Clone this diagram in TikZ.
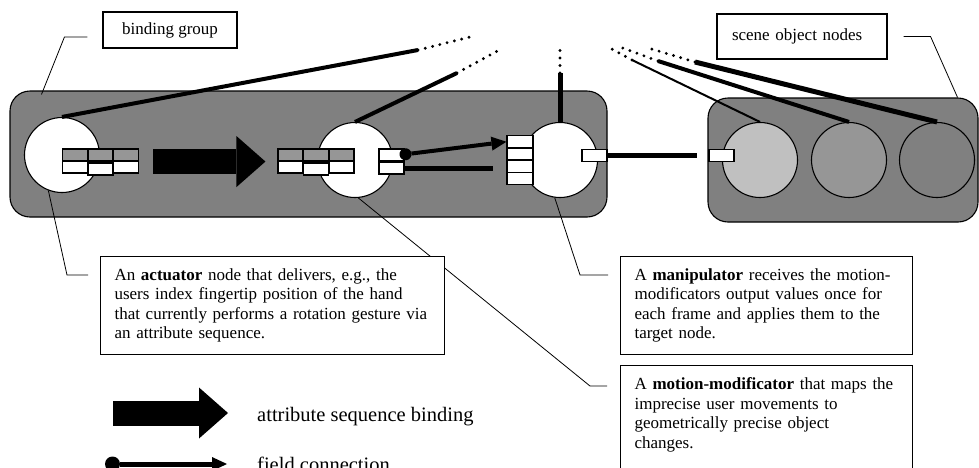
\documentclass[tikz,border=0pt]{standalone}
\usepackage{fontspec}
\setmainfont{Liberation Serif}
\usetikzlibrary{arrows.meta}

\definecolor{groupgray}{RGB}{128,128,128}
\definecolor{fieldgray}{RGB}{150,150,150}
\definecolor{palegray}{RGB}{192,192,192}

\tikzset{
  groupbox/.style={draw, fill=groupgray, line width=1.1pt, rounded corners=20pt, inner sep=0pt},
  scenenode/.style={circle, draw, line width=1.1pt, fill=white, minimum size=75pt, inner sep=0pt},
  field/.style={draw, line width=1.1pt, fill=white, minimum width=25pt, minimum height=12pt, inner sep=0pt},
  tagbox/.style={draw, line width=1.1pt, fill=white, inner sep=0pt},
  infobox/.style={draw, line width=1.1pt, fill=white, text width=#1, align=left,
    inner xsep=14pt, inner ysep=12pt, anchor=north west},
  callout/.style={line width=0.8pt},
  dots/.style={line width=3.2pt, line cap=round, dash pattern=on 0pt off 7.5pt},
  seqbind/.style={line width=25pt, -{Triangle[length=29pt, width=51pt, line width=0pt]}},
  fieldcon/.style={line width=4pt,
    {Circle[length=#1, line width=0pt]}-{Triangle[length=15pt, width=14pt, line width=0pt]}},
  fieldcon/.default=12pt
}

\begin{document}
\begin{tikzpicture}[x=1pt, y=-1pt, font=\fontsize{17}{19.5}\selectfont]
  \clip (0,0) rectangle (979,467);

  \node[groupbox, minimum width=597pt, minimum height=126pt] (bgroup) at (308.5,154) {};
  \node[groupbox, minimum width=270pt, minimum height=124pt] (sgroup) at (843,160) {};

  \node[scenenode] (act) at (62,155) {};
  \node[scenenode] (mod) at (355,160) {};
  \node[scenenode] (man) at (560,160) {};
  \node[scenenode, fill=palegray]  (obj1) at (760,160) {};
  \node[scenenode, fill=fieldgray] (obj2) at (849,160) {};
  \node[scenenode, fill=groupgray] (obj3) at (937,160) {};

  % links into the scene graph
  \foreach \n/\p/\q/\w in {act/{(418,50)}/{(470,37)}/4pt,
                           mod/{(457,73)}/{(503,48)}/4pt,
                           man/{(560,73)}/{(560,50)}/5pt,
                           obj1/{(632,60)}/{(608,47)}/2pt,
                           obj2/{(658,61)}/{(620,47)}/4pt,
                           obj3/{(695,62)}/{(645,47)}/5pt} {
    \draw[line width=\w] (\n.north) -- \p;
    \draw[dots] \p -- \q;
  }

  % attribute sequences
  \foreach \i in {1,2,3} {
    \node[field, fill=fieldgray] (aout\i) at ({49.5+25.5*\i},155) {};
    \node[field] (aval\i) at ({49.5+25.5*\i},{167+2*(\i==2)}) {};
    \node[field, fill=fieldgray] (min\i) at ({265+25.5*\i},155) {};
    \node[field] (mval\i) at ({265+25.5*\i},{167+2*(\i==2)}) {};
  }
  \node[field] (mout1) at (391.5,155) {};
  \node[field] (mout2) at (391.5,168) {};
  \foreach \i in {1,...,4}
    \node[field, minimum width=26pt] (mcol\i) at (520,{129.5+12.25*\i}) {};
  \node[field] (mport) at (594.5,155.5) {};
  \node[field] (oport) at (721.5,155.5) {};

  \draw[seqbind] ([xshift=14pt]aout3.south east) -- ([xshift=-12pt]min1.south west);
  \draw[fieldcon] ([xshift=-5pt]mout1.east) -- (mcol1.west);
  \coordinate (modend) at (493,168);
  \draw[line width=5pt] (mout2.east) -- (modend);
  \draw[line width=5pt] (mport.east) -- ([xshift=-11pt]oport.west);

  % tags and callouts
  \node[tagbox, minimum width=134pt, minimum height=36pt] (bgtag) at (170,30) {binding group};
  \node[tagbox, text width=140pt, align=left, inner xsep=15pt, minimum height=45pt]
    (sotag) at (802,36.5) {scene object nodes};
  \draw[callout] ([shift={(-15,7)}]bgtag.west) -- ++(-23,0) -- ([shift={(32,4)}]bgroup.north west);
  \draw[callout] ([xshift=16pt]sotag.east) -- ++(27,0) -- ([xshift=-21pt]sgroup.north east);

  \coordinate (actpin) at (88,275);
  \coordinate (manpin) at (608,275);
  \coordinate (modpin) at (607,386);
  \draw[callout] (act.249) -- ([xshift=-21pt]actpin) -- (actpin);
  \draw[callout] (man.262) -- ([xshift=-28pt]manpin) -- (manpin);
  \draw[callout] (mod.275) -- ([xshift=-17pt]modpin) -- (modpin);

  \node[infobox=316pt] (actbox) at (100,256) {An \textbf{actuator} node that delivers, e.g., the\\
    users index fingertip position of the hand\\
    that currently performs a rotation gesture via\\
    an attribute sequence.};
  \node[infobox=264pt] (manbox) at (620,256) {A \textbf{manipulator} receives the motion-\\
    modificators output values once for\\
    each frame and applies them to the\\
    target node.};
  \node[infobox=264pt] (modbox) at (620,365) {A \textbf{motion-modificator} that maps the\\
    imprecise user movements to\\
    geometrically precise object\\
    changes.\\ \strut\\ \strut};

  % legend
  \node[anchor=base west, inner sep=0pt, font=\fontsize{20.5}{24}\selectfont]
    (seqkey) at (257,421) {attribute sequence binding};
  \node[anchor=base west, inner sep=0pt, font=\fontsize{20.5}{24}\selectfont]
    (fieldkey) at (257,471) {field connection};
  \draw[seqbind] ([shift={(-144,-8)}]seqkey.base west) -- ([shift={(-29,-8)}]seqkey.base west);
  \draw[fieldcon=15pt, line width=5pt] ([shift={(-152,-7)}]fieldkey.base west)
    -- ([shift={(-30,-7)}]fieldkey.base west);
\end{tikzpicture}
\end{document}
